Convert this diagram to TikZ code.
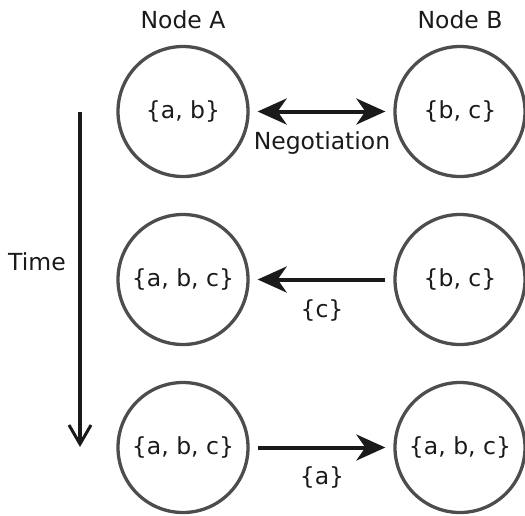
\documentclass[tikz,border=0pt]{standalone}
\usepackage{fontspec}
\setmainfont{DejaVu Sans}
\usetikzlibrary{arrows.meta}

\definecolor{ringgray}{HTML}{4D4D4D}
\definecolor{inkblack}{HTML}{1A1A1A}

\begin{document}
\begin{tikzpicture}[x=1pt, y=-1pt,
    every node/.style={font=\fontsize{23.5}{28}\selectfont, text=inkblack},
    peer/.style={draw=ringgray, circle, line width=3.3pt, inner sep=0pt, minimum size=130pt},
    msg/.style={draw=inkblack, line width=4pt, shorten <=8pt, shorten >=8pt},
    headtip/.tip={Stealth[length=29pt, width=26pt, inset=9pt]}]
  \useasboundingbox (0,0) rectangle (525,515);

  % Headings
  \node (headA) at (183,20) {Node A};
  \node (headB) at (460,20) {Node B};

  % Node A over time
  \node[peer] (a1) at (183,111.5) {\{a, b\}};
  \node[peer] (a2) at (183,279.5) {\{a, b, c\}};
  \node[peer] (a3) at (183,447.5) {\{a, b, c\}};

  % Node B over time
  \node[peer] (b1) at (460,111.5) {\{b, c\}};
  \node[peer] (b2) at (460,279.5) {\{b, c\}};
  \node[peer] (b3) at (460,447.5) {\{a, b, c\}};

  % Messages
  \draw[msg, headtip-headtip] (a1) -- (b1);
  \draw[msg, -headtip] (b2) -- (a2);
  \draw[msg, -headtip] (a3) -- (b3);

  \node (negotiation) at (322,143) {Negotiation};
  \node (sendc) at (322,310) {\{c\}};
  \node (senda) at (322,477) {\{a\}};

  % Time axis
  \coordinate (tstart) at (80,112);
  \coordinate (tend) at (80,447);
  \draw[draw=inkblack, line width=3.5pt, -{Straight Barb[length=19pt, width=22pt, line width=3pt]}] (tstart) -- (tend);
  \node (time) at (37,262) {Time};
\end{tikzpicture}
\end{document}
